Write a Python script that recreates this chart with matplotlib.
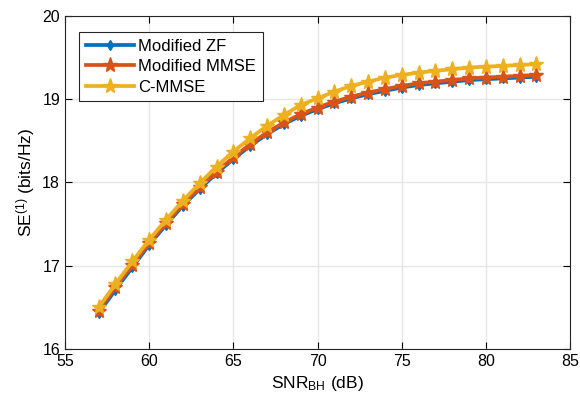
import matplotlib
matplotlib.use("Agg")
import matplotlib.pyplot as plt

plt.rcParams['font.family'] = ['Liberation Sans', 'DejaVu Sans']
plt.rcParams['mathtext.default'] = 'regular'

# SNR_BH (dB)
snr = list(range(57, 84))

se_zf = [16.43, 16.71, 16.98, 17.25, 17.49, 17.72, 17.92, 18.11, 18.28, 18.44,
         18.58, 18.70, 18.80, 18.88, 18.95, 19.01, 19.06, 19.10, 19.14, 19.17,
         19.19, 19.21, 19.23, 19.24, 19.25, 19.26, 19.27]
se_mmse = [16.46, 16.74, 17.01, 17.27, 17.51, 17.74, 17.94, 18.13, 18.30, 18.46,
           18.60, 18.72, 18.82, 18.90, 18.97, 19.03, 19.08, 19.12, 19.16, 19.19,
           19.21, 19.23, 19.25, 19.26, 19.27, 19.28, 19.29]
se_cmmse = [16.50, 16.78, 17.05, 17.31, 17.55, 17.78, 17.99, 18.19, 18.37, 18.53,
            18.68, 18.81, 18.93, 19.01, 19.09, 19.16, 19.21, 19.26, 19.29, 19.32,
            19.34, 19.36, 19.38, 19.39, 19.40, 19.41, 19.42]

fig = plt.figure(figsize=(5.8, 4.09), dpi=100)
ax = fig.add_axes([0.112, 0.147, 0.871, 0.814])

ax.plot(snr, se_zf, color='#0072BD', lw=2.7, marker='d', ms=5, label='Modified ZF')
ax.plot(snr, se_mmse, color='#D95319', lw=2.7, marker='*', ms=11, label='Modified MMSE')
ax.plot(snr, se_cmmse, color='#EDB120', lw=2.7, marker='*', ms=11, label='C-MMSE')

ax.set_xlim(55, 85)
ax.set_ylim(16, 20)
ax.set_xticks(range(55, 86, 5))
ax.set_yticks([16, 17, 18, 19, 20])
ax.grid(True, color='#e6e6e6', lw=1)
ax.set_axisbelow(True)
ax.tick_params(direction='in', length=5, labelsize=11.5, top=True, right=True,
               labeltop=False, labelright=False)
for s in ax.spines.values():
    s.set_linewidth(0.8)
    s.set_color('#262626')

ax.set_xlabel(r'SNR$_{BH}$ (dB)', fontsize=12.5)
ax.set_ylabel(r'SE$^{(1)}$ (bits/Hz)', fontsize=12.5)

leg = ax.legend(loc='upper left', bbox_to_anchor=(0.028, 0.952), borderaxespad=0,
                fontsize=12, fancybox=False, edgecolor='#262626', framealpha=1,
                handlelength=2.9, borderpad=0.4, labelspacing=0.33,
                handletextpad=0.25)
leg.get_frame().set_linewidth(0.8)

plt.savefig("out.png", dpi=100)
